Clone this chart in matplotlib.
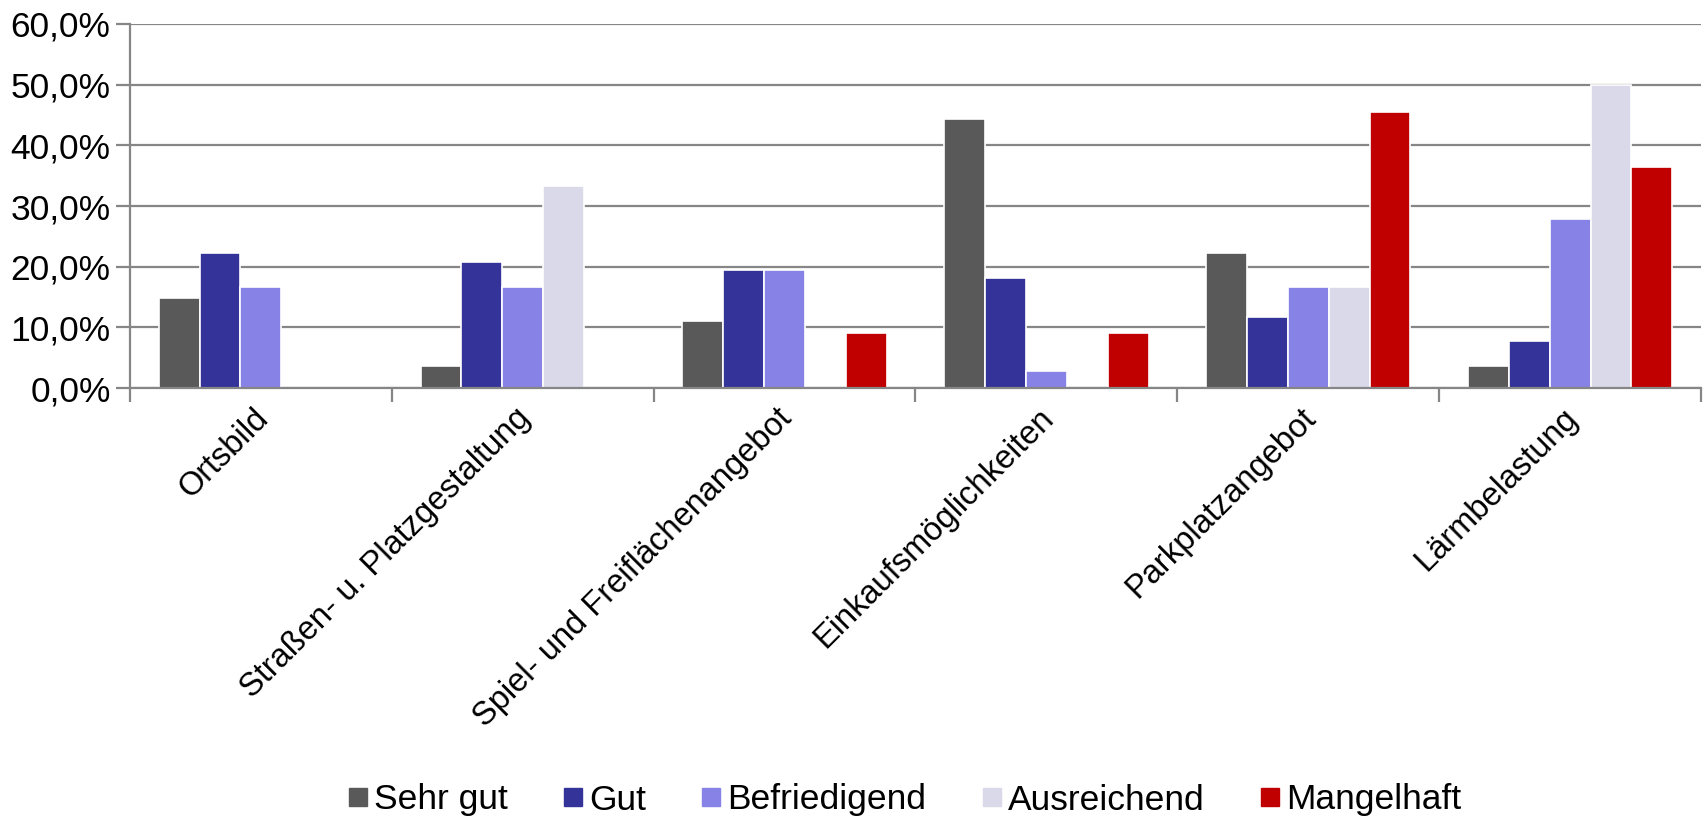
import numpy as np
import matplotlib.pyplot as plt
import matplotlib.transforms as mtransforms
from matplotlib.lines import Line2D
from matplotlib.ticker import FuncFormatter

plt.rcParams['font.family'] = ['Liberation Sans', 'DejaVu Sans']

categories = ['Ortsbild', 'Straßen- u. Platzgestaltung', 'Spiel- und Freiflächenangebot',
              'Einkaufsmöglichkeiten', 'Parkplatzangebot', 'Lärmbelastung']
series_names = ['Sehr gut', 'Gut', 'Befriedigend', 'Ausreichend', 'Mangelhaft']
sehr_gut = [14.8, 3.7, 11.1, 44.4, 22.2, 3.7]
gut = [22.2, 20.7, 19.5, 18.2, 11.7, 7.8]
befriedigend = [16.7, 16.7, 19.4, 2.8, 16.7, 27.8]
ausreichend = [0.0, 33.3, 0.0, 0.0, 16.7, 50.0]
mangelhaft = [0.0, 0.0, 9.1, 9.1, 45.5, 36.4]
colors = ['#595959', '#333399', '#8782E6', '#DAD9EA', '#C00000']

values = [sehr_gut, gut, befriedigend, ausreichend, mangelhaft]
fs = 25.5

fig = plt.figure(figsize=(17.04, 8.16), dpi=100)
ax = fig.add_axes([130 / 1704, 1 - 388 / 816, 1571 / 1704, 364 / 816])

x = np.arange(len(categories))
w = 0.156
for j, (name, vals, col) in enumerate(zip(series_names, values, colors)):
    ax.bar(x + (j - 2) * w, vals, width=w, color=col, edgecolor='white',
           linewidth=1.2, label=name, zorder=2)

grid_col = '#868686'
ax.set_xlim(-0.5, len(categories) - 0.5)
ax.set_ylim(0, 60)
ax.set_yticks(np.arange(0, 61, 10))
ax.yaxis.set_major_formatter(FuncFormatter(lambda v, p: f'{v:.1f}%'.replace('.', ',')))
ax.grid(axis='y', color=grid_col, linewidth=1.6, zorder=0)

# boundary ticks between categories, labels centred under each group
ax.set_xticks(np.arange(-0.5, len(categories), 1))
ax.set_xticklabels([])
ax.set_xticks(x, minor=True)
ax.set_xticklabels(categories, minor=True, rotation=45, ha='right',
                   rotation_mode='anchor', fontsize=23.5)
ax.tick_params(axis='x', which='major', length=10, width=1.6, color=grid_col)
ax.tick_params(axis='x', which='minor', length=0, pad=12)
ax.tick_params(axis='y', length=10, width=1.6, color=grid_col, labelsize=fs, pad=4)

# nudge the rotated labels left so their ends sit under the group centres
shift = mtransforms.ScaledTranslation(-8 / 100, 2 / 100, fig.dpi_scale_trans)
for lbl in ax.get_xticklabels(minor=True):
    lbl.set_transform(lbl.get_transform() + shift)

for s in ['top', 'right']:
    ax.spines[s].set_visible(False)
for s in ['left', 'bottom']:
    ax.spines[s].set_color(grid_col)
    ax.spines[s].set_linewidth(1.6)
    ax.spines[s].set_zorder(3)

handles = [Line2D([], [], marker='s', linestyle='none', markersize=13,
                  markerfacecolor=c, markeredgecolor=c) for c in colors]
fig.legend(handles, series_names, loc='center', bbox_to_anchor=(905 / 1704, 1 - 800 / 816),
           ncol=5, frameon=False, fontsize=fs, handlelength=0.5,
           handletextpad=0.2, columnspacing=1.6, borderpad=0)

fig.savefig('out.png', dpi=100)
